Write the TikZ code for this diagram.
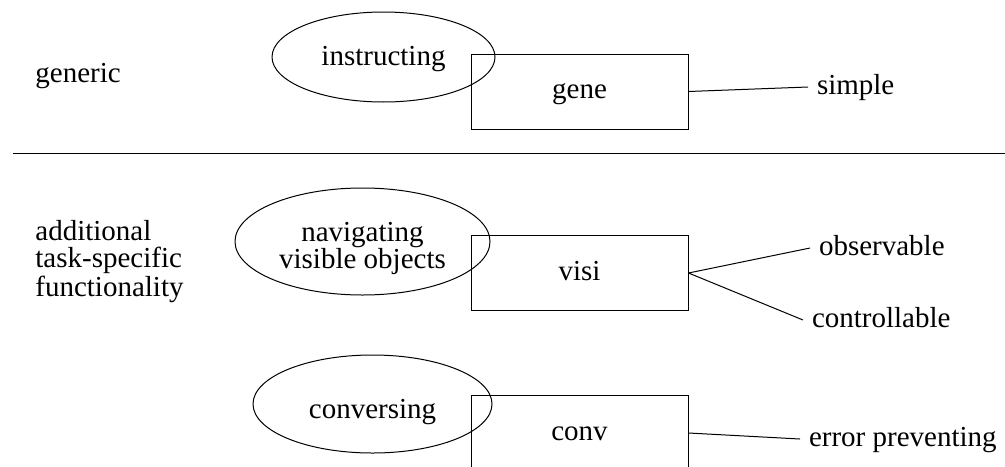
\documentclass[tikz,border=0pt]{standalone}
\usepackage{fontspec}
\setmainfont{Liberation Serif}
\usetikzlibrary{shapes.geometric}

\tikzset{
  every node/.style={font=\fontsize{14.5pt}{13.25pt}\selectfont},
  unitbox/.style={draw, rectangle, inner sep=0pt, line width=0.5pt,
    minimum width=108.5pt, minimum height=37.5pt,
    text height=8.5pt, text depth=1.5pt},
  oval/.style={draw, ellipse, inner sep=0pt, line width=0.5pt},
  quality/.style={anchor=west, inner xsep=4.3pt, inner ysep=0pt,
    text height=8.5pt, text depth=1.5pt},
  heading/.style={anchor=base west, inner sep=0pt, align=left},
  link/.style={line width=0.5pt},
}

\begin{document}
\begin{tikzpicture}[x=0.5pt, y=-0.5pt]
  \clip (0,0) rectangle (1005,466);

  % row labels on the left (multi-line text sits on its last baseline)
  \node[heading] (lblgen) at (35,82) {generic};
  \node[heading] (lbladd) at (35,296) {additional\\task-specific\\functionality};

  % separator between generic and task-specific parts
  \coordinate (sepL) at (13,153);
  \coordinate (sepR) at (1005,153);
  \draw[line width=0.5pt] (sepL) -- (sepR);

  % activity ovals
  \node[oval, minimum width=111.5pt, minimum height=45pt,
        text height=9pt, text depth=1pt] (instr) at (383.5,57) {instructing};
  \node[oval, minimum width=127.5pt, minimum height=53.5pt, align=center,
        text height=27pt, text depth=0.2pt] (navig) at (362.5,241.5)
        {navigating\\visible objects};
  \node[oval, minimum width=119.5pt, minimum height=49pt,
        text height=14pt, text depth=0pt] (convs) at (372.5,404) {conversing};

  % component boxes
  \node[unitbox] (gene) at (579.5,91.5) {gene};
  \node[unitbox] (visi) at (579.5,273) {visi};
  \node[unitbox] (conv) at (579.5,433) {conv};

  % quality labels
  \node[quality] (simple) at (808,87) {simple};
  \node[quality] (observ) at (810,248) {observable};
  \node[quality] (control) at (803,320) {controllable};
  \node[quality] (errprev) at (800,439) {error preventing};

  % connectors from components to their qualities
  \draw[link] (gene.east) -- (simple.west);
  \draw[link] (visi.east) -- (observ.west);
  \draw[link] (visi.east) -- (control.west);
  \draw[link] (conv.east) -- (errprev.west);
\end{tikzpicture}
\end{document}
